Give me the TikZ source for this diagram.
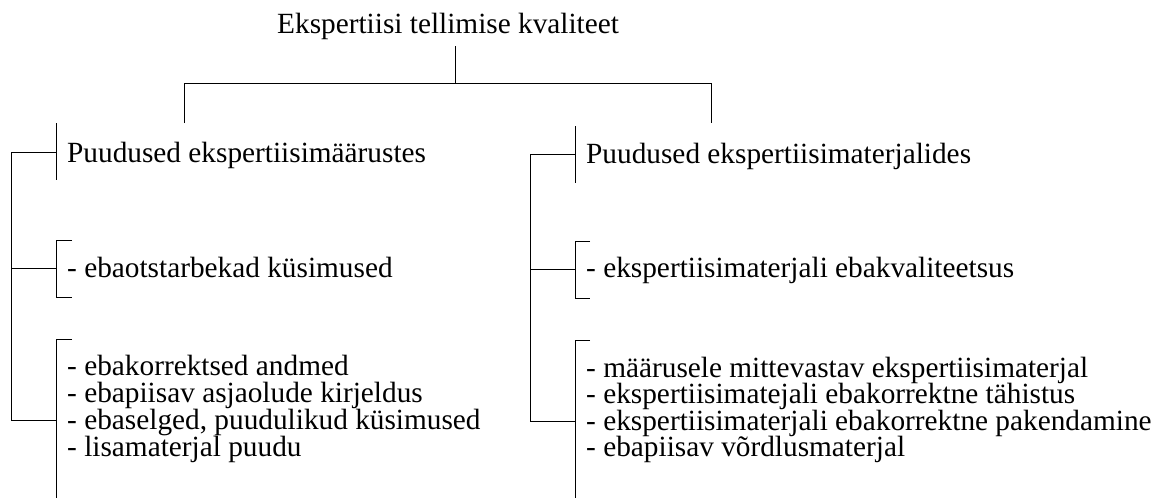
\documentclass[tikz,border=0pt]{standalone}
\usepackage{fontspec}
\setmainfont{Liberation Serif}
\begin{document}
\begin{tikzpicture}[x=1pt,y=-1pt,
  txt/.style={inner sep=0pt,anchor=base west,font=\fontsize{29.3}{26.6}\selectfont},
  lst/.style={txt,align=left},
  ln/.style={line width=1pt,black}]
\useasboundingbox (0,0) rectangle (1157,498);
% title
\node[txt] (title) at (277,33) {Ekspertiisi tellimise kvaliteet};
\coordinate (t0) at (455,46);
\coordinate (t1) at (455,83);
\coordinate (tl) at (184,83);
\coordinate (tr) at (711,83);
\coordinate (tlb) at (184,123);
\coordinate (trb) at (711,123);
\draw[ln] (t0) -- (t1);
\draw[ln] (tlb) -- (tl) -- (tr) -- (trb);
% left group
\node[txt] (L1) at (67,162) {Puudused ekspertiisimäärustes};
\node[txt] (L2) at (67,277) {- ebaotstarbekad küsimused};
\node[lst] (L3) at (67,456.8) {- ebakorrektsed andmed\\- ebapiisav asjaolude kirjeldus\\- ebaselged, puudulikud küsimused\\- lisamaterjal puudu};
\coordinate (Ls1) at (11,152);
\coordinate (Lb1) at (56,152);
\coordinate (Lb1t) at (56,123);
\coordinate (Lb1b) at (56,180);
\coordinate (Ls2) at (11,268);
\coordinate (Lb2) at (56,268);
\coordinate (Lb2t) at (56,240);
\coordinate (Lb2b) at (56,297);
\coordinate (Lb2te) at (72,240);
\coordinate (Lb2be) at (72,297);
\coordinate (Ls3) at (11,420);
\coordinate (Lb3) at (56,420);
\coordinate (Lb3t) at (56,339);
\coordinate (Lb3te) at (72,339);
\coordinate (Lb3b) at (56,498);
\draw[ln] (Ls1) -- (Ls3);
\draw[ln] (Ls1) -- (Lb1);
\draw[ln] (Lb1t) -- (Lb1b);
\draw[ln] (Ls2) -- (Lb2);
\draw[ln] (Lb2te) -- (Lb2t) -- (Lb2b) -- (Lb2be);
\draw[ln] (Ls3) -- (Lb3);
\draw[ln] (Lb3te) -- (Lb3t) -- (Lb3b);
% right group
\node[txt] (R1) at (586,163) {Puudused ekspertiisimaterjalides};
\node[txt] (R2) at (586,277) {- ekspertiisimaterjali ebakvaliteetsus};
\node[lst] (R3) at (586,456.8) {- määrusele mittevastav ekspertiisimaterjal\\- ekspertiisimatejali ebakorrektne tähistus\\- ekspertiisimaterjali ebakorrektne pakendamine\\- ebapiisav võrdlusmaterjal};
\coordinate (Rs1) at (530,154);
\coordinate (Rb1) at (575,154);
\coordinate (Rb1t) at (575,126);
\coordinate (Rb1b) at (575,183);
\coordinate (Rs2) at (530,269);
\coordinate (Rb2) at (575,269);
\coordinate (Rb2t) at (575,241);
\coordinate (Rb2b) at (575,298);
\coordinate (Rb2te) at (590,241);
\coordinate (Rb2be) at (590,298);
\coordinate (Rs3) at (530,421);
\coordinate (Rb3) at (575,421);
\coordinate (Rb3t) at (575,340);
\coordinate (Rb3te) at (590,340);
\coordinate (Rb3b) at (575,498);
\draw[ln] (Rs1) -- (Rs3);
\draw[ln] (Rs1) -- (Rb1);
\draw[ln] (Rb1t) -- (Rb1b);
\draw[ln] (Rs2) -- (Rb2);
\draw[ln] (Rb2te) -- (Rb2t) -- (Rb2b) -- (Rb2be);
\draw[ln] (Rs3) -- (Rb3);
\draw[ln] (Rb3te) -- (Rb3t) -- (Rb3b);
\end{tikzpicture}
\end{document}
